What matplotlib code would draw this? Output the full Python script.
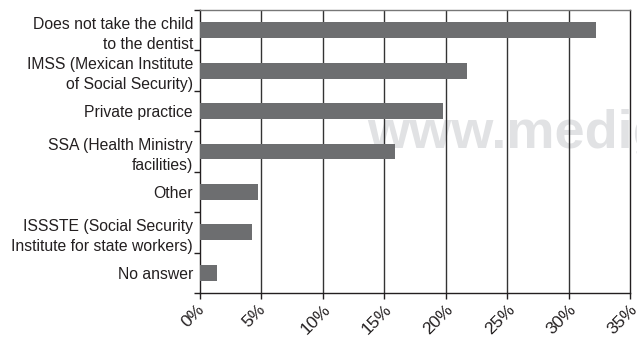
import matplotlib
matplotlib.use("Agg")
import matplotlib.pyplot as plt
import matplotlib.transforms as mtransforms
import numpy as np

plt.rcParams['font.family'] = ['Liberation Sans', 'DejaVu Sans']

categories = [
    "Does not take the child\nto the dentist",
    "IMSS (Mexican Institute\nof Social Security)",
    "Private practice",
    "SSA (Health Ministry\nfacilities)",
    "Other",
    "ISSSTE (Social Security\nInstitute for state workers)",
    "No answer",
]
values = [32.2, 21.7, 19.75, 15.9, 4.7, 4.2, 1.4]
xticks = [0, 5, 10, 15, 20, 25, 30, 35]
xticklabels = ["0%", "5%", "10%", "15%", "20%", "25%", "30%", "35%"]

W, H = 637, 337
fig = plt.figure(figsize=(W / 100, H / 100), dpi=100)
ax = fig.add_axes([200 / W, 1 - 293 / H, 430 / W, 283 / H])

# watermark (behind bars and gridlines)
ax.text(367 / W, 1 - 148 / H, "www.medig", transform=fig.transFigure,
        fontsize=39, color="#e1e2e4", fontweight="bold",
        ha="left", va="baseline", zorder=1, clip_on=False)

n = len(categories)
y = np.arange(n)
ax.barh(y, values, height=0.39, color="#6d6e70", zorder=3)

ax.set_xlim(0, 35)
ax.set_ylim(n - 0.5, -0.5)
ax.set_xticks(xticks)
ax.set_xticklabels(xticklabels, rotation=45, ha="center", fontsize=12.5)
ax.set_yticks(y)
ax.set_yticklabels(categories, fontsize=11.3, color="#231f20", linespacing=1.4)
ax.set_yticks(np.arange(n + 1) - 0.5, minor=True)
ax.tick_params(axis="y", which="major", length=0, pad=5)
ax.tick_params(axis="y", which="minor", length=4, width=1, color="#231f20")
ax.tick_params(axis="x", which="major", length=4, width=1, color="#231f20",
               pad=2.5, labelcolor="#231f20")

offset = mtransforms.ScaledTranslation(-0.07, 0, fig.dpi_scale_trans)
for lbl in ax.get_xticklabels():
    lbl.set_transform(lbl.get_transform() + offset)

for xv in xticks[1:-1]:
    ax.axvline(xv, color="#333333", lw=1, zorder=2)

for s in ["left", "bottom", "right"]:
    ax.spines[s].set_color("#231f20")
    ax.spines[s].set_linewidth(1)
ax.spines["top"].set_color("#777777")
ax.spines["top"].set_linewidth(1)

fig.savefig("out.png", dpi=100)
